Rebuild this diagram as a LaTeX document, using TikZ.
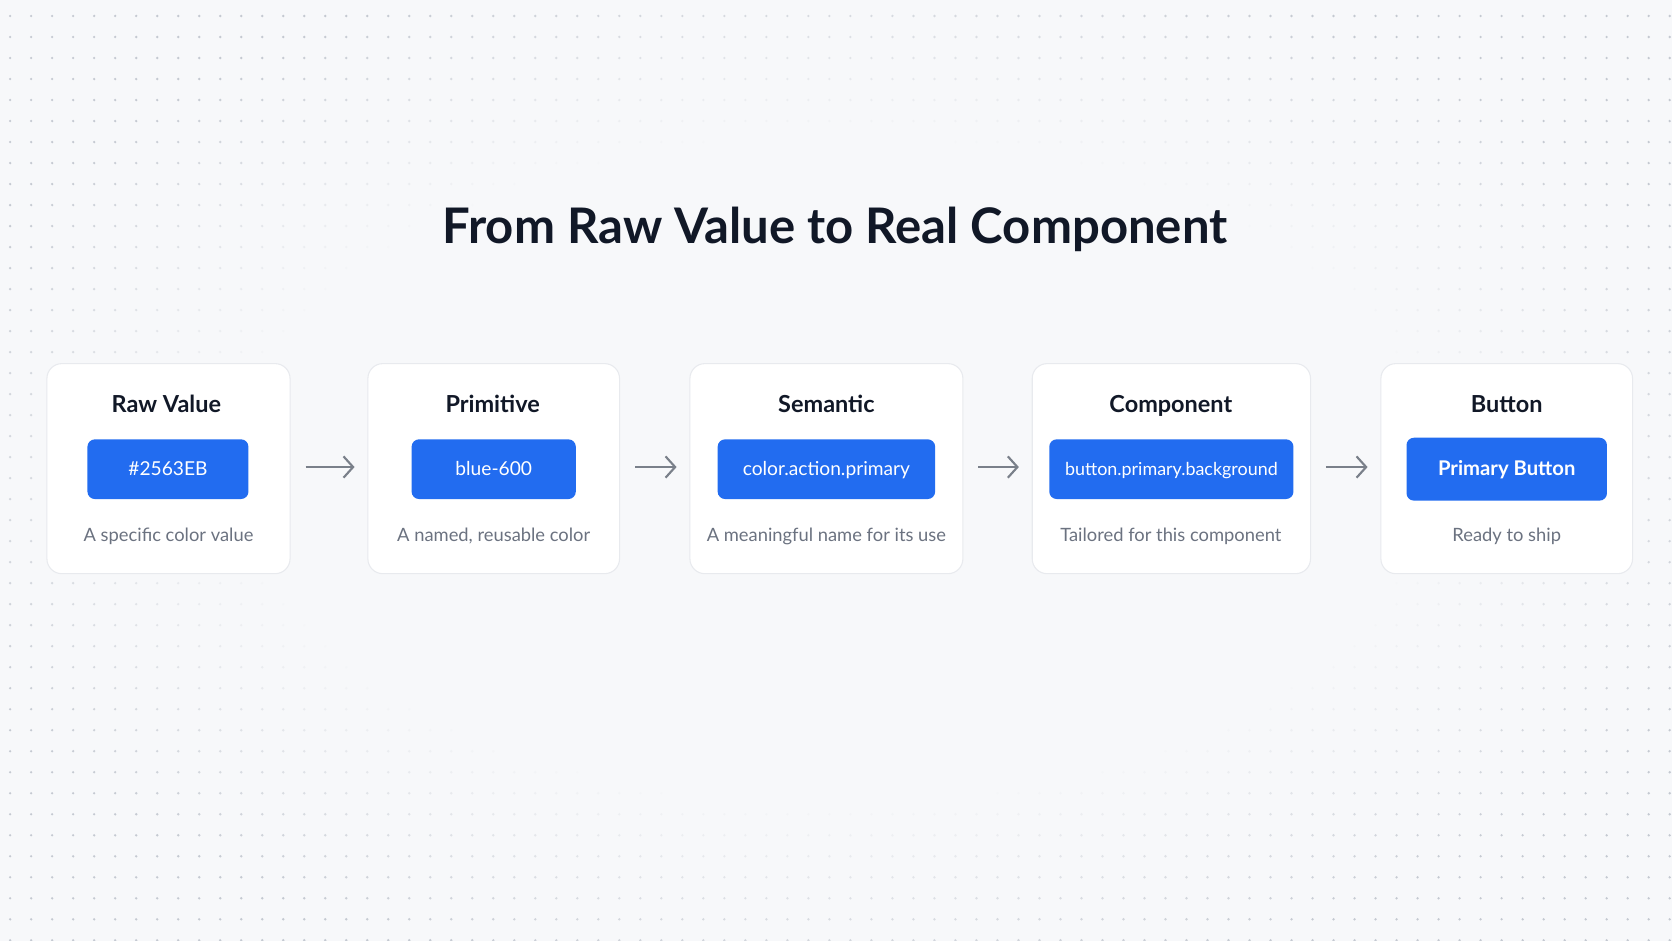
\documentclass[tikz,border=0pt]{standalone}
\usepackage{fontspec}
\setmainfont{Lato}
\usetikzlibrary{arrows.meta}
\pgfdeclarelayer{shadowlayer}
\pgfsetlayers{shadowlayer,main}
\definecolor{bgc}{HTML}{F7F8FA}
\definecolor{dotc}{HTML}{B4BAC4}
\definecolor{ink}{HTML}{111827}
\definecolor{muted}{HTML}{6B7280}
\definecolor{tokblue}{HTML}{226CF0}
\definecolor{cardline}{HTML}{E8EAEE}
\definecolor{arrowc}{HTML}{7A808A}
\tikzset{
  card/.style={draw=cardline, line width=0.5pt, fill=white, rounded corners=7pt,
    minimum height=98.5pt, inner sep=0pt},
  cardtitle/.style={font=\bfseries\fontsize{11}{13}\selectfont, text=ink, inner sep=0pt,
    text height=1.45ex, text depth=0.3ex},
  token/.style={fill=tokblue, rounded corners=3.5pt, minimum height=28pt, inner sep=0pt,
    text=white, font=\fontsize{9}{11}\selectfont, text height=1.45ex, text depth=0.35ex},
  desc/.style={font=\fontsize{8.6}{10}\selectfont, text=muted, inner sep=0pt,
    text height=1.45ex, text depth=0.35ex},
  flow/.style={draw=arrowc, line width=1pt, -{Straight Barb[length=4.5pt,width=10pt,line width=1pt]},
    shorten <=7pt, shorten >=6pt},
  heading/.style={font=\bfseries\fontsize{23}{27}\selectfont, text=ink, inner sep=0pt,
    text height=1.45ex, text depth=0.35ex},
  softshadow/.style={fill=black, opacity=0.015}
}
\begin{document}
\begin{tikzpicture}[x=0.5pt,y=-0.5pt]
\useasboundingbox (0,0) rectangle (1568,882.4);
\fill[bgc] (0,0) rectangle (1568,882.4);
% dot grid, fading toward the centre
\foreach \i in {0,...,79}{
  \foreach \j in {0,...,44}{
    \pgfmathsetmacro\dx{9.5+19.7*\i}
    \pgfmathsetmacro\dy{15+19.7*\j}
    \pgfmathsetmacro\rr{sqrt(((\dx-784)/784)^2+((\dy-441)/441)^2)}
    \pgfmathsetmacro\op{max(0,min(1,(\rr-0.7)/0.42))*0.75}
    \ifdim\op pt>0.02pt
      \fill[dotc, opacity=\op] (\dx,\dy) circle (1.25);
    \fi
  }
}
\node[heading] (title) at (783,223) {From Raw Value to Real Component};

\node[card, minimum width=114pt] (c1) at (158,439.5) {};
\node[card, minimum width=118pt] (c2) at (463,439.5) {};
\node[card, minimum width=128pt] (c3) at (775,439.5) {};
\node[card, minimum width=130.5pt] (c4) at (1098.5,439.5) {};
\node[card, minimum width=118pt] (c5) at (1413,439.5) {};

\begin{pgfonlayer}{shadowlayer}
\foreach \c in {c1,c2,c3,c4,c5}{
  \foreach \k in {1,...,12}{
    \fill[softshadow, rounded corners={7pt+\k*1.1pt}]
      ([xshift=-\k*1.1pt, yshift=-\k*1.1pt-4pt]\c.south west)
      rectangle ([xshift=\k*1.1pt, yshift=\k*1.1pt-4pt]\c.north east);
  }
}
\end{pgfonlayer}

\node[cardtitle] (t1) at (156,381) {Raw Value};
\node[cardtitle] (t2) at (462,381) {Primitive};
\node[cardtitle] (t3) at (775,381) {Semantic};
\node[cardtitle] (t4) at (1098,381) {Component};
\node[cardtitle] (t5) at (1413,381) {Button};

\node[token, minimum width=75.5pt] (b1) at (157.5,440) {\#2563EB};
\node[token, minimum width=77pt] (b2) at (463,440) {blue-600};
\node[token, minimum width=102pt] (b3) at (775,440) {color.action.primary};
\node[token, minimum width=114.5pt, font=\fontsize{8.4}{10}\selectfont] (b4) at (1098.5,440) {button.primary.background};
\node[token, minimum width=94pt, minimum height=29.5pt, font=\bfseries\fontsize{9.5}{11}\selectfont] (b5) at (1413,440) {Primary Button};

\node[desc] (d1) at (158,502) {A specific color value};
\node[desc] (d2) at (463,502) {A named, reusable color};
\node[desc] (d3) at (775,502) {A meaningful name for its use};
\node[desc] (d4) at (1098,502) {Tailored for this component};
\node[desc] (d5) at (1413,502) {Ready to ship};

\draw[flow] (c1.east |- 0,438) -- (c2.west |- 0,438);
\draw[flow] (c2.east |- 0,438) -- (c3.west |- 0,438);
\draw[flow] (c3.east |- 0,438) -- (c4.west |- 0,438);
\draw[flow] (c4.east |- 0,438) -- (c5.west |- 0,438);
\end{tikzpicture}
\end{document}
